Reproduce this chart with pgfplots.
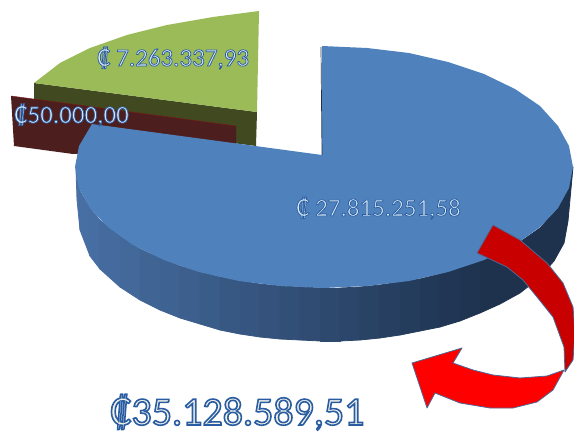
\documentclass[border=0pt]{standalone}
\usepackage{fontspec}
\setmainfont{Carlito}
\usepackage{pgfplots}
\pgfplotsset{compat=1.18}
\definecolor{pietop}{RGB}{79,129,189}
\definecolor{sideL}{RGB}{72,112,165}
\definecolor{sideR}{RGB}{30,50,78}
\definecolor{olive}{RGB}{155,187,89}
\definecolor{olivedark}{RGB}{64,73,32}
\definecolor{slab}{RGB}{77,30,30}
\definecolor{arrowdark}{RGB}{200,0,0}
\definecolor{arrowlight}{RGB}{255,0,0}
\definecolor{arrowline}{RGB}{75,105,150}
\tikzset{lbl/.style={anchor=base west, inner sep=0pt}}
% outlined text: stroke blue, fill pale
\newcommand{\outl}[2]{\special{pdf:bcolor [#1] [0.16 0.36 0.64]}#2\special{pdf:ecolor}}
% one vertical strip of the pie's side
\newcommand{\strip}[2]{\addplot[fill=sideL!#1!sideR, draw=sideL!#1!sideR, line width=0.8pt] coordinates {#2} -- cycle;}
\begin{document}
\begin{tikzpicture}
\useasboundingbox (0,0) rectangle (574bp,432bp);
\begin{axis}[
  scale only axis, width=574bp, height=432bp,
  xmin=0, xmax=574, ymin=0, ymax=432, y dir=reverse,
  hide axis, clip=true,
  every axis plot/.append style={line join=round},
]
% green slice side and top
\addplot[fill=olivedark, draw=none] coordinates {(34,83)(257,112)(256,146)(34,118)} -- cycle;
\addplot[fill=olive, draw=none] coordinates {
  (259,11)(213,17)(167,25)(127,35)(90,48)(60,63)(34,83)(257,112)} -- cycle;
% dark red slab
\addplot[fill=slab, draw=none] coordinates {(11,96)(236,126)(236,145)(73,154)(14,146)} -- cycle;
\addplot[draw=red!30!slab, line width=0.4pt] coordinates {(11,96)(236,126)};
% blue side, strips left to right
\strip{100}{(76,170)(80,191)(80,230)(77,200)}
\strip{99}{(80,191)(90,208)(90,256)(80,230)}
\strip{96}{(90,208)(100,220)(100,269)(90,256)}
\strip{92}{(100,220)(120,236)(120,287)(100,269)}
\strip{87}{(120,236)(140,249)(140,300)(120,287)}
\strip{82}{(140,249)(160,258)(160,310)(140,300)}
\strip{77}{(160,258)(180,266)(180,318)(160,310)}
\strip{72}{(180,266)(200,272)(200,324)(180,318)}
\strip{67}{(200,272)(220,277)(220,330)(200,324)}
\strip{62}{(220,277)(240,281)(240,334)(220,330)}
\strip{57}{(240,281)(260,284)(260,337)(240,334)}
\strip{52}{(260,284)(280,286)(280,339)(260,337)}
\strip{47}{(280,286)(300,287)(300,340)(280,339)}
\strip{42}{(300,287)(320,288)(320,341)(300,340)}
\strip{37}{(320,288)(340,288)(340,341)(320,341)}
\strip{32}{(340,288)(360,287)(360,340)(340,341)}
\strip{27}{(360,287)(380,285)(380,338)(360,340)}
\strip{22}{(380,285)(400,282)(400,335)(380,338)}
\strip{17}{(400,282)(420,279)(420,331)(400,335)}
\strip{12}{(420,279)(440,274)(440,327)(420,331)}
\strip{7}{(440,274)(460,268)(460,321)(440,327)}
\strip{3}{(460,268)(480,261)(480,313)(460,321)}
\strip{0}{(480,261)(500,253)(520,242)(540,228)(558,208)(569,188)(573,167)(568,221)(564,243)(554,261)(539,278)(520,293)(500,304)(480,313)}
% blue top
\addplot[fill=pietop, draw=none] coordinates {
  (322,46)(367,48)(409,53)(448,62)(484,74)(515,89)(540,106)(558,126)(569,146)(573,167)
  (569,188)(558,208)(540,227)(515,245)(484,260)(448,272)(409,281)(367,286)(324,288)
  (281,286)(239,281)(199,272)(164,260)(133,245)(108,227)(90,208)(79,188)(75,167)
  (79,146)(92,124)(322,155)} -- cycle;
\addplot[draw=sideR, line width=0.7pt] coordinates {(321,47)(322,155)};
% curved arrow
\addplot[fill=arrowdark, draw=arrowline, line width=0.8pt] coordinates {
  (493,225)(520,240)(547,263)(563,283)(573,307)(575,333)(573,360)(565,372)
  (564,347)(553,317)(537,297)(523,280)(507,267)(477,253)} -- cycle;
\addplot[fill=arrowlight, draw=arrowline, line width=0.8pt] coordinates {
  (564,370)(547,376)(520,378)(493,375)(473,370)(453,363)(462,348)(412,363)(427,408)
  (435,393)(460,403)(490,408)(513,408)(537,402)(553,390)} -- cycle;
% labels
\node[lbl, font=\fontsize{25bp}{25bp}\selectfont\addfontfeature{FakeBold=3}] at (axis cs:97,66) {\outl{0.85 0.92 0.95}{₡ 7.263.337,93}};
\node[lbl, font=\fontsize{25bp}{25bp}\selectfont\addfontfeature{FakeBold=3}] at (axis cs:14,123) {\outl{0.88 0.93 0.98}{₡50.000,00}};
\node[lbl, font=\fontsize{25bp}{25bp}\selectfont\addfontfeature{FakeBold=3}] at (axis cs:296,216) {\outl{0.85 0.92 0.95}{₡ 27.815.251,58}};
\node[lbl, font=\fontsize{40bp}{40bp}\selectfont\addfontfeature{FakeBold=4}] at (axis cs:110,425) {\outl{0.95 0.95 0.9}{₡35.128.589,51}};
\end{axis}
\end{tikzpicture}
\end{document}
